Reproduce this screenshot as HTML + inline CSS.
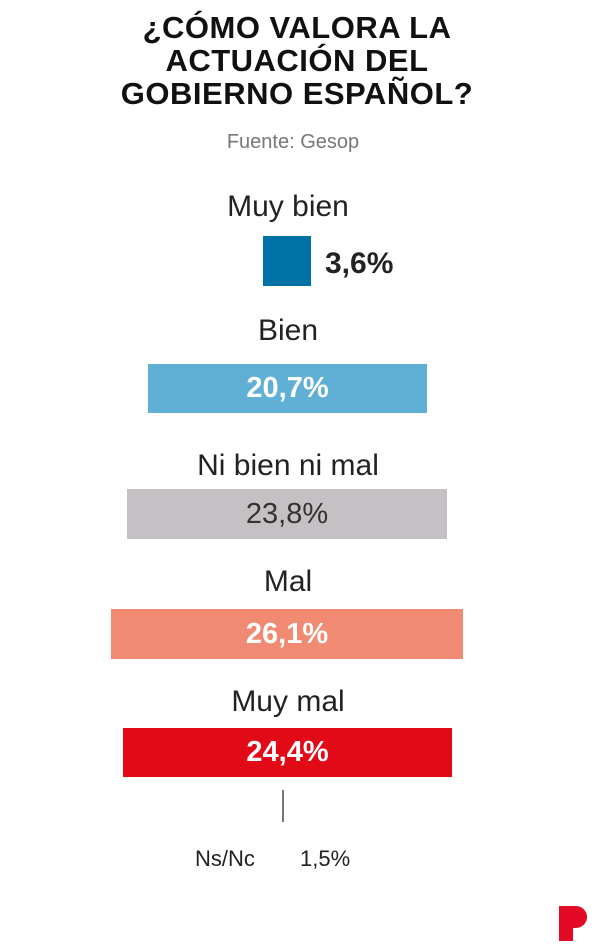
<!DOCTYPE html><html><head><style>
body{margin:0;width:600px;height:951px;background:#fff;position:relative;font-family:"Liberation Sans",sans-serif;overflow:hidden}
.a{position:absolute}
.t{left:0;width:594px;text-align:center;font-weight:bold;font-size:31px;line-height:33px;color:#111;top:11px;letter-spacing:0.5px}
.l{left:0;width:576px;text-align:center;font-size:30px;color:#222}
.b{display:flex;align-items:center;justify-content:center;font-weight:bold;font-size:29px;color:#fff}
</style></head><body>
<div class="a t">¿CÓMO VALORA LA<br>ACTUACIÓN DEL<br>GOBIERNO ESPAÑOL?</div>
<div class="a" style="left:0;width:586px;text-align:center;top:131px;font-size:20px;color:#777">Fuente: Gesop</div>
<div class="a l" style="top:190px">Muy bien</div>
<div class="a" style="left:263px;top:236px;width:48px;height:50px;background:#0072a6"></div>
<div class="a" style="left:325px;top:247px;font-weight:bold;font-size:30px;color:#222">3,6%</div>
<div class="a l" style="top:314px">Bien</div>
<div class="a b" style="left:148px;top:364px;width:279px;height:49px;background:#60b0d6">20,7%</div>
<div class="a l" style="top:449px">Ni bien ni mal</div>
<div class="a b" style="left:127px;top:489px;width:320px;height:50px;background:#c4c0c3;color:#333;font-weight:normal">23,8%</div>
<div class="a l" style="top:565px">Mal</div>
<div class="a b" style="left:111px;top:609px;width:352px;height:50px;background:#f08a72">26,1%</div>
<div class="a l" style="top:685px">Muy mal</div>
<div class="a b" style="left:123px;top:728px;width:329px;height:49px;background:#e30a18">24,4%</div>
<div class="a" style="left:282px;top:790px;width:2px;height:32px;background:#777"></div>
<div class="a" style="left:195px;top:846px;font-size:22px;color:#222">Ns/Nc</div>
<div class="a" style="left:300px;top:846px;font-size:22px;color:#222">1,5%</div>
<svg class="a" style="left:559px;top:906px" width="30" height="36"><path d="M0 0H17A11 11 0 0 1 17 22H14V35H0Z" fill="#e30a26"/></svg>
</body></html>
